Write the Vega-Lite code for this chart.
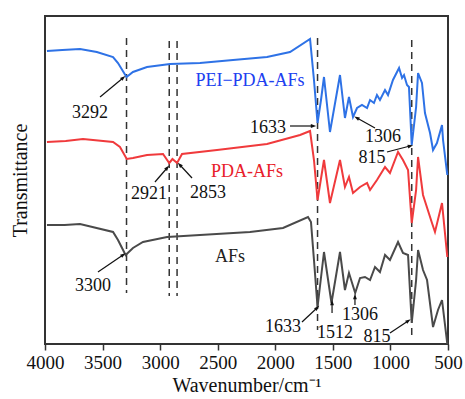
{
  "$schema": "https://vega.github.io/schema/vega-lite/v6.json",
  "width": 403,
  "height": 328,
  "autosize": {"type": "none"},
  "padding": {"left": 45, "top": 16, "right": 17, "bottom": 55},
  "background": "white",
  "config": {
    "view": {"stroke": "#333333", "strokeWidth": 2},
    "font": "'Liberation Serif', 'Times New Roman', serif"
  },
  "datasets": {
    "spectra": [
      {"sample": "PEI−PDA-AFs", "w": 3983, "t": 293},
      {"sample": "PEI−PDA-AFs", "w": 3850, "t": 294},
      {"sample": "PEI−PDA-AFs", "w": 3696, "t": 295},
      {"sample": "PEI−PDA-AFs", "w": 3550, "t": 292},
      {"sample": "PEI−PDA-AFs", "w": 3409, "t": 287},
      {"sample": "PEI−PDA-AFs", "w": 3366, "t": 281},
      {"sample": "PEI−PDA-AFs", "w": 3292, "t": 267},
      {"sample": "PEI−PDA-AFs", "w": 3236, "t": 272},
      {"sample": "PEI−PDA-AFs", "w": 3114, "t": 277},
      {"sample": "PEI−PDA-AFs", "w": 2914, "t": 280},
      {"sample": "PEI−PDA-AFs", "w": 2654, "t": 281},
      {"sample": "PEI−PDA-AFs", "w": 2367, "t": 284},
      {"sample": "PEI−PDA-AFs", "w": 2072, "t": 287},
      {"sample": "PEI−PDA-AFs", "w": 1872, "t": 292},
      {"sample": "PEI−PDA-AFs", "w": 1698, "t": 305},
      {"sample": "PEI−PDA-AFs", "w": 1664, "t": 264},
      {"sample": "PEI−PDA-AFs", "w": 1633, "t": 221},
      {"sample": "PEI−PDA-AFs", "w": 1603, "t": 244},
      {"sample": "PEI−PDA-AFs", "w": 1577, "t": 267},
      {"sample": "PEI−PDA-AFs", "w": 1525, "t": 212},
      {"sample": "PEI−PDA-AFs", "w": 1438, "t": 269},
      {"sample": "PEI−PDA-AFs", "w": 1395, "t": 226},
      {"sample": "PEI−PDA-AFs", "w": 1360, "t": 247},
      {"sample": "PEI−PDA-AFs", "w": 1325, "t": 227},
      {"sample": "PEI−PDA-AFs", "w": 1290, "t": 236},
      {"sample": "PEI−PDA-AFs", "w": 1247, "t": 239},
      {"sample": "PEI−PDA-AFs", "w": 1203, "t": 236},
      {"sample": "PEI−PDA-AFs", "w": 1177, "t": 244},
      {"sample": "PEI−PDA-AFs", "w": 1143, "t": 241},
      {"sample": "PEI−PDA-AFs", "w": 1117, "t": 249},
      {"sample": "PEI−PDA-AFs", "w": 1091, "t": 244},
      {"sample": "PEI−PDA-AFs", "w": 1047, "t": 254},
      {"sample": "PEI−PDA-AFs", "w": 1021, "t": 249},
      {"sample": "PEI−PDA-AFs", "w": 978, "t": 264},
      {"sample": "PEI−PDA-AFs", "w": 925, "t": 276},
      {"sample": "PEI−PDA-AFs", "w": 899, "t": 266},
      {"sample": "PEI−PDA-AFs", "w": 882, "t": 269},
      {"sample": "PEI−PDA-AFs", "w": 856, "t": 259},
      {"sample": "PEI−PDA-AFs", "w": 839, "t": 257},
      {"sample": "PEI−PDA-AFs", "w": 815, "t": 199},
      {"sample": "PEI−PDA-AFs", "w": 777, "t": 237},
      {"sample": "PEI−PDA-AFs", "w": 760, "t": 271},
      {"sample": "PEI−PDA-AFs", "w": 726, "t": 261},
      {"sample": "PEI−PDA-AFs", "w": 700, "t": 231},
      {"sample": "PEI−PDA-AFs", "w": 656, "t": 211},
      {"sample": "PEI−PDA-AFs", "w": 630, "t": 194},
      {"sample": "PEI−PDA-AFs", "w": 596, "t": 201},
      {"sample": "PEI−PDA-AFs", "w": 552, "t": 219},
      {"sample": "PEI−PDA-AFs", "w": 543, "t": 204},
      {"sample": "PEI−PDA-AFs", "w": 506, "t": 169},
      {"sample": "PDA-AFs", "w": 3983, "t": 202},
      {"sample": "PDA-AFs", "w": 3820, "t": 203},
      {"sample": "PDA-AFs", "w": 3670, "t": 205},
      {"sample": "PDA-AFs", "w": 3409, "t": 202},
      {"sample": "PDA-AFs", "w": 3349, "t": 197},
      {"sample": "PDA-AFs", "w": 3290, "t": 185},
      {"sample": "PDA-AFs", "w": 3236, "t": 186},
      {"sample": "PDA-AFs", "w": 3114, "t": 189},
      {"sample": "PDA-AFs", "w": 2975, "t": 190},
      {"sample": "PDA-AFs", "w": 2921, "t": 181},
      {"sample": "PDA-AFs", "w": 2893, "t": 185},
      {"sample": "PDA-AFs", "w": 2853, "t": 181},
      {"sample": "PDA-AFs", "w": 2810, "t": 190},
      {"sample": "PDA-AFs", "w": 2506, "t": 194},
      {"sample": "PDA-AFs", "w": 2072, "t": 200},
      {"sample": "PDA-AFs", "w": 1785, "t": 209},
      {"sample": "PDA-AFs", "w": 1698, "t": 213},
      {"sample": "PDA-AFs", "w": 1664, "t": 184},
      {"sample": "PDA-AFs", "w": 1633, "t": 144},
      {"sample": "PDA-AFs", "w": 1577, "t": 184},
      {"sample": "PDA-AFs", "w": 1525, "t": 141},
      {"sample": "PDA-AFs", "w": 1438, "t": 184},
      {"sample": "PDA-AFs", "w": 1395, "t": 157},
      {"sample": "PDA-AFs", "w": 1360, "t": 167},
      {"sample": "PDA-AFs", "w": 1325, "t": 151},
      {"sample": "PDA-AFs", "w": 1264, "t": 157},
      {"sample": "PDA-AFs", "w": 1203, "t": 161},
      {"sample": "PDA-AFs", "w": 1177, "t": 154},
      {"sample": "PDA-AFs", "w": 1117, "t": 164},
      {"sample": "PDA-AFs", "w": 1047, "t": 177},
      {"sample": "PDA-AFs", "w": 1004, "t": 171},
      {"sample": "PDA-AFs", "w": 934, "t": 192},
      {"sample": "PDA-AFs", "w": 891, "t": 184},
      {"sample": "PDA-AFs", "w": 847, "t": 174},
      {"sample": "PDA-AFs", "w": 815, "t": 121},
      {"sample": "PDA-AFs", "w": 777, "t": 154},
      {"sample": "PDA-AFs", "w": 760, "t": 187},
      {"sample": "PDA-AFs", "w": 717, "t": 149},
      {"sample": "PDA-AFs", "w": 639, "t": 121},
      {"sample": "PDA-AFs", "w": 613, "t": 112},
      {"sample": "PDA-AFs", "w": 552, "t": 141},
      {"sample": "PDA-AFs", "w": 506, "t": 87},
      {"sample": "AFs", "w": 3983, "t": 119},
      {"sample": "AFs", "w": 3830, "t": 119},
      {"sample": "AFs", "w": 3696, "t": 120},
      {"sample": "AFs", "w": 3409, "t": 112},
      {"sample": "AFs", "w": 3366, "t": 104},
      {"sample": "AFs", "w": 3300, "t": 89},
      {"sample": "AFs", "w": 3236, "t": 96},
      {"sample": "AFs", "w": 3149, "t": 102},
      {"sample": "AFs", "w": 2940, "t": 107},
      {"sample": "AFs", "w": 2654, "t": 109},
      {"sample": "AFs", "w": 2220, "t": 112},
      {"sample": "AFs", "w": 1933, "t": 116},
      {"sample": "AFs", "w": 1716, "t": 127},
      {"sample": "AFs", "w": 1690, "t": 122},
      {"sample": "AFs", "w": 1664, "t": 84},
      {"sample": "AFs", "w": 1633, "t": 37},
      {"sample": "AFs", "w": 1577, "t": 92},
      {"sample": "AFs", "w": 1512, "t": 41},
      {"sample": "AFs", "w": 1438, "t": 92},
      {"sample": "AFs", "w": 1395, "t": 54},
      {"sample": "AFs", "w": 1360, "t": 71},
      {"sample": "AFs", "w": 1306, "t": 51},
      {"sample": "AFs", "w": 1264, "t": 66},
      {"sample": "AFs", "w": 1221, "t": 67},
      {"sample": "AFs", "w": 1177, "t": 64},
      {"sample": "AFs", "w": 1134, "t": 77},
      {"sample": "AFs", "w": 1091, "t": 72},
      {"sample": "AFs", "w": 1047, "t": 89},
      {"sample": "AFs", "w": 1004, "t": 84},
      {"sample": "AFs", "w": 934, "t": 102},
      {"sample": "AFs", "w": 891, "t": 91},
      {"sample": "AFs", "w": 847, "t": 89},
      {"sample": "AFs", "w": 815, "t": 21},
      {"sample": "AFs", "w": 777, "t": 64},
      {"sample": "AFs", "w": 760, "t": 94},
      {"sample": "AFs", "w": 717, "t": 74},
      {"sample": "AFs", "w": 682, "t": 64},
      {"sample": "AFs", "w": 630, "t": 17},
      {"sample": "AFs", "w": 587, "t": 34},
      {"sample": "AFs", "w": 552, "t": 44},
      {"sample": "AFs", "w": 506, "t": 0}
    ],
    "guides": [
      {"w": 3292, "top": 306, "bottom": 51},
      {"w": 2921, "top": 303, "bottom": 48},
      {"w": 2853, "top": 303, "bottom": 48},
      {"w": 1633, "top": 306, "bottom": 14},
      {"w": 815, "top": 304, "bottom": 4}
    ],
    "arrows": [
      {"w1": 3522, "t1": 247, "w2": 3323, "t2": 266},
      {"w1": 1872, "t1": 218, "w2": 1672, "t2": 218},
      {"w1": 1134, "t1": 216, "w2": 1290, "t2": 226},
      {"w1": 1030, "t1": 192, "w2": 830, "t2": 198},
      {"w1": 3045, "t1": 162, "w2": 2940, "t2": 176},
      {"w1": 2723, "t1": 166, "w2": 2828, "t2": 179},
      {"w1": 3540, "t1": 72, "w2": 3323, "t2": 89},
      {"w1": 1768, "t1": 22, "w2": 1638, "t2": 36},
      {"w1": 1507, "t1": 31, "w2": 1507, "t2": 41},
      {"w1": 1308, "t1": 39, "w2": 1308, "t2": 47},
      {"w1": 1004, "t1": 11, "w2": 847, "t2": 23}
    ],
    "labels": [
      {"text": "3292", "w": 3609, "t": 231, "role": "peak"},
      {"text": "PEI−PDA-AFs", "w": 2220, "t": 263, "role": "PEI−PDA-AFs"},
      {"text": "1633", "w": 2063, "t": 216, "role": "peak"},
      {"text": "1306", "w": 1064, "t": 207, "role": "peak"},
      {"text": "815", "w": 1160, "t": 186, "role": "peak"},
      {"text": "PDA-AFs", "w": 2246, "t": 172, "role": "PDA-AFs"},
      {"text": "2921", "w": 3097, "t": 150, "role": "peak"},
      {"text": "2853", "w": 2584, "t": 151, "role": "peak"},
      {"text": "AFs", "w": 2393, "t": 87, "role": "AFs"},
      {"text": "3300", "w": 3583, "t": 58, "role": "peak"},
      {"text": "1633", "w": 1933, "t": 17, "role": "peak"},
      {"text": "1512", "w": 1481, "t": 11, "role": "peak"},
      {"text": "1306", "w": 1264, "t": 29, "role": "peak"},
      {"text": "815", "w": 1117, "t": 7, "role": "peak"}
    ]
  },
  "layer": [
    {
      "data": {"name": "guides"},
      "mark": {"type": "rule", "color": "#333333", "strokeWidth": 1.5, "strokeDash": [7, 5]},
      "encoding": {
        "x": {
          "field": "w", "type": "quantitative",
          "scale": {"domain": [500, 4000], "reverse": true, "nice": false, "zero": false},
          "axis": {
            "values": [4000, 3750, 3500, 3250, 3000, 2750, 2500, 2250, 2000, 1750, 1500, 1250, 1000, 750, 500],
            "labelExpr": "datum.value % 500 == 0 ? datum.label : ''",
            "format": "d",
            "title": "Wavenumber/cm⁻¹",
            "titleFont": "'Liberation Serif', serif",
            "titleFontSize": 20,
            "titleFontWeight": "normal",
            "titleColor": "#111111",
            "titlePadding": 3,
            "labelFont": "'Liberation Serif', serif",
            "labelFontSize": 19,
            "labelColor": "#111111",
            "labelPadding": 3,
            "labelFlush": false,
            "labelOverlap": false,
            "tickSize": 6,
            "tickWidth": 1.5,
            "tickColor": "#333333",
            "domain": false,
            "grid": false
          }
        },
        "y": {
          "field": "top", "type": "quantitative",
          "scale": {"domain": [0, 328], "nice": false, "zero": false},
          "axis": {
            "title": "Transmittance",
            "titleFont": "'Liberation Serif', serif",
            "titleFontSize": 20,
            "titleFontWeight": "normal",
            "titleColor": "#111111",
            "titlePadding": 15,
            "labels": false,
            "ticks": false,
            "domain": false,
            "grid": false
          }
        },
        "y2": {"field": "bottom"}
      }
    },
    {
      "data": {"name": "spectra"},
      "mark": {"type": "line", "strokeWidth": 2},
      "encoding": {
        "x": {"field": "w", "type": "quantitative"},
        "y": {"field": "t", "type": "quantitative"},
        "color": {
          "field": "sample", "type": "nominal",
          "scale": {"domain": ["PEI−PDA-AFs", "PDA-AFs", "AFs"], "range": ["#2e72e6", "#f03a3c", "#4a4a4a"]},
          "legend": null
        },
        "order": {"field": "w", "type": "quantitative", "sort": "descending"}
      }
    },
    {
      "data": {"name": "arrows"},
      "mark": {"type": "rule", "color": "#111111", "strokeWidth": 1.2},
      "encoding": {
        "x": {"field": "w1", "type": "quantitative"},
        "y": {"field": "t1", "type": "quantitative"},
        "x2": {"field": "w2"},
        "y2": {"field": "t2"}
      }
    },
    {
      "data": {"name": "arrows"},
      "transform": [
        {"calculate": "atan2(-(datum.w2 - datum.w1) * 0.115143, datum.t2 - datum.t1) * 180 / PI", "as": "ang"}
      ],
      "mark": {"type": "point", "shape": "M0,-1L-0.6,0.7L0.6,0.7Z", "filled": true, "color": "#111111", "size": 40, "opacity": 1},
      "encoding": {
        "x": {"field": "w2", "type": "quantitative"},
        "y": {"field": "t2", "type": "quantitative"},
        "angle": {"field": "ang", "type": "quantitative", "scale": null}
      }
    },
    {
      "data": {"name": "labels"},
      "mark": {"type": "text", "fontSize": 18, "baseline": "middle", "align": "center", "font": "'Liberation Serif', serif"},
      "encoding": {
        "x": {"field": "w", "type": "quantitative"},
        "y": {"field": "t", "type": "quantitative"},
        "text": {"field": "text"},
        "color": {
          "field": "role", "type": "nominal",
          "scale": {"domain": ["PEI−PDA-AFs", "PDA-AFs", "AFs", "peak"], "range": ["#2040f0", "#e8202a", "#222222", "#111111"]},
          "legend": null
        }
      }
    }
  ],
  "resolve": {"scale": {"color": "independent"}}
}
